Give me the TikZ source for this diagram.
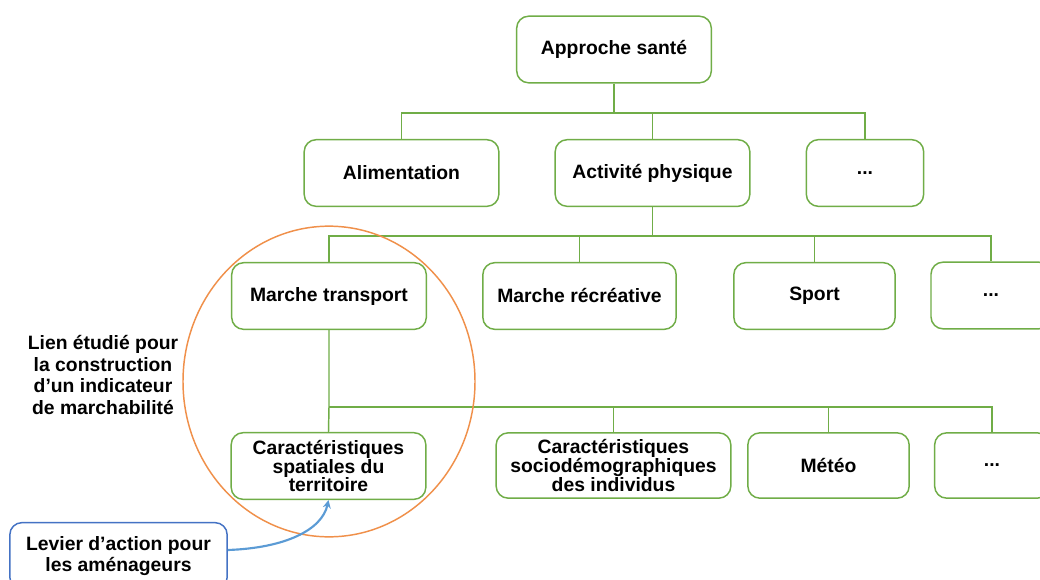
\documentclass[tikz,border=0pt]{standalone}
\usepackage{fontspec}
\setmainfont{Liberation Sans}
\usetikzlibrary{arrows.meta,shapes.geometric}
\definecolor{grn}{HTML}{70AD47}
\definecolor{org}{HTML}{F0904A}
\definecolor{bluebox}{HTML}{4472C4}
\definecolor{bluearr}{HTML}{5B9BD5}
\tikzset{
  box/.style={draw=grn, line width=1.1pt, rounded corners=9pt, align=center,
    font=\bfseries\fontsize{14.5}{14.2}\selectfont, inner sep=0pt},
  conn/.style={draw=grn, line width=1.1pt},
}
\begin{document}
\begin{tikzpicture}[x=0.75pt,y=-0.75pt]
\clip (0,0) rectangle (1040,579);
\fill[white] (0,0) rectangle (1040,579);
% level 1
\node[box, minimum width=146pt, minimum height=50pt] (sante) at (614,49.5) {Approche santé};
% level 2
\node[box, minimum width=146pt, minimum height=50pt] (alim) at (401.5,173) {Alimentation};
\node[box, minimum width=146pt, minimum height=50pt] (act) at (652.5,173) {Activité physique};
\node[box, minimum width=88pt, minimum height=50pt] (dots1) at (865,173) {...};
% level 3
\node[box, minimum width=146pt, minimum height=50pt] (mt) at (329,296) {Marche transport};
\node[box, minimum width=145pt, minimum height=50pt] (mr) at (579.5,296) {Marche récréative};
\node[box, minimum width=121pt, minimum height=50pt] (sport) at (814.5,296) {Sport};
\node[box, minimum width=90pt, minimum height=50pt] (dots2) at (991,295.5) {...};
% level 4
\node[box, minimum width=146pt, minimum height=50pt] (spat) at (328.5,466) {Caractéristiques\\spatiales du\\territoire};
\node[box, minimum width=176pt, minimum height=49pt] (socio) at (613.5,465.5) {Caractéristiques\\sociodémographiques\\des individus};
\node[box, minimum width=121pt, minimum height=49pt] (meteo) at (828.5,465.5) {Météo};
\node[box, minimum width=86pt, minimum height=49pt] (dots3) at (992,465.5) {...};
% connectors
\coordinate (b1) at (614,113);
\coordinate (b2) at (652.5,236);
\coordinate (b3) at (329,407);
\draw[conn] (sante.south) -- (b1) -| (alim.north);
\draw[conn] (b1) -| (act.north);
\draw[conn] (b1) -| (dots1.north);
\draw[conn] (act.south) -- (b2) -| (mt.north);
\draw[conn] (b2) -| (mr.north);
\draw[conn] (b2) -| (sport.north);
\draw[conn] (b2) -| (dots2.north);
\draw[conn] (mt.south) -- (b3) -- (spat.north);
\draw[conn] (b3) -| (socio.north);
\draw[conn] (b3) -| (meteo.north);
\draw[conn] (b3) -| (dots3.north);
% orange ellipse
\node[draw=org, line width=1.1pt, ellipse, minimum width=219pt, minimum height=233pt, inner sep=0pt] (circ) at (329,381.5) {};
% left text
\node[align=center, font=\bfseries\fontsize{14.5}{16.3}\selectfont, inner sep=0pt] (lien) at (103,375) {Lien étudié pour\\la construction\\d’un indicateur\\de marchabilité};
% levier
\node[draw=bluebox, line width=1.1pt, rounded corners=9pt, align=center,
  font=\bfseries\fontsize{14.5}{16.3}\selectfont, inner sep=0pt,
  minimum width=163pt, minimum height=50pt] (levier) at (118.5,556) {Levier d’action pour\\les aménageurs};
\draw[draw=bluearr, line width=1.6pt, -{Stealth[length=6pt,width=6pt]}]
  (levier.east |- 0,550) .. controls (285,548) and (322,530) .. (spat.south);
\end{tikzpicture}
\end{document}
